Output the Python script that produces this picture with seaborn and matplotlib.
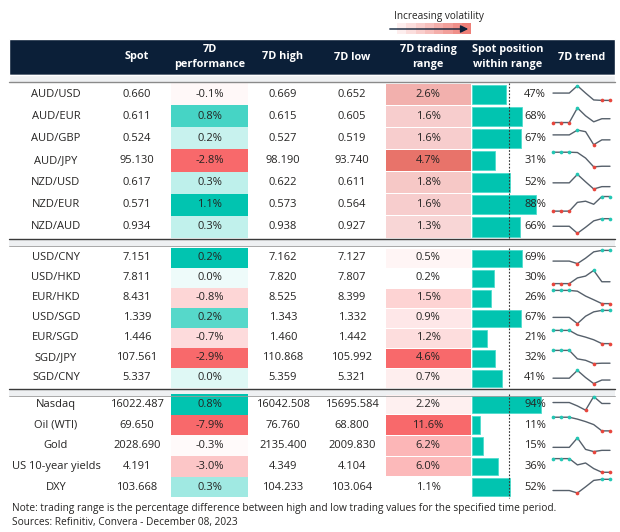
import numpy as np
import matplotlib
matplotlib.use("Agg")
import matplotlib.pyplot as plt
import seaborn as sns

# ---- data ----
names1 = ['AUD/USD', 'AUD/EUR', 'AUD/GBP', 'AUD/JPY', 'NZD/USD', 'NZD/EUR', 'NZD/AUD']
spot1 = [0.660, 0.611, 0.524, 95.130, 0.617, 0.571, 0.934]
perf1 = [-0.14, 0.8, 0.24, -2.8, 0.28, 1.1, 0.27]
high1 = [0.669, 0.615, 0.527, 98.190, 0.622, 0.573, 0.938]
low1 = [0.652, 0.605, 0.519, 93.740, 0.611, 0.564, 0.927]
range1 = [2.6, 1.6, 1.6, 4.7, 1.8, 1.6, 1.3]
pos1 = [47, 68, 67, 31, 52, 88, 66]

names2 = ['USD/CNY', 'USD/HKD', 'EUR/HKD', 'USD/SGD', 'EUR/SGD', 'SGD/JPY', 'SGD/CNY']
spot2 = [7.151, 7.811, 8.431, 1.339, 1.446, 107.561, 5.337]
perf2 = [0.24, 0.016, -0.8, 0.16, -0.7, -2.9, 0.03]
high2 = [7.162, 7.820, 8.525, 1.343, 1.460, 110.868, 5.359]
low2 = [7.127, 7.807, 8.399, 1.332, 1.442, 105.992, 5.321]
range2 = [0.5, 0.2, 1.5, 0.9, 1.2, 4.6, 0.7]
pos2 = [69, 30, 26, 67, 21, 32, 41]

names3 = ['Nasdaq', 'Oil (WTI)', 'Gold', 'US 10-year yields', 'DXY']
spot3 = [16022.487, 69.650, 2028.690, 4.191, 103.668]
perf3 = [0.8, -7.9, -0.3, -3.0, 0.3]
high3 = [16042.508, 76.760, 2135.400, 4.349, 104.233]
low3 = [15695.584, 68.800, 2009.830, 4.104, 103.064]
range3 = [2.2, 11.6, 6.2, 6.0, 1.1]
pos3 = [94, 11, 15, 36, 52]

# 7D trend sparklines (relative level, 8 daily points)
trend1 = [
    [5, 5, 5, 10, 5, 0.3, 0, 0],
    [0, 0, 0, 10, 4.6, 0.5, 2.6, 2.6],
    [6.7, 6.7, 6.7, 10, 8.9, 0, 3.3, 3.3],
    [10, 10, 10, 9.8, 6, 0, 0.4, 0.4],
    [4.2, 4.2, 4.2, 10, 4.9, 0, 1.6, 1.6],
    [0, 0, 0, 6, 6.8, 4.7, 10, 10],
    [4.8, 4.8, 4.8, 0, 4.1, 8.5, 10, 10],
]
trend2 = [
    [1.9, 1.9, 1.9, 0, 4.1, 8.9, 10, 10],
    [0, 0, 0, 4.3, 5.7, 10, 1.4, 1.4],
    [10, 10, 10, 9.4, 5.7, 2.9, 0, 0],
    [4.7, 4.7, 4.7, 0, 5.6, 8.9, 10, 10],
    [10, 10, 10, 6.6, 4.9, 2.9, 0, 0],
    [10, 10, 10, 3.6, 2.5, 0, 0.3, 0.3],
    [4.1, 4.1, 4.1, 10, 4.6, 0, 2.7, 2.7],
]
trend3 = [
    [5.6, 5.6, 5.6, 3.1, 0, 10, 4.9, 4.9],
    [10, 10, 10, 8.6, 6.8, 4.6, 0, 0],
    [3.1, 3.1, 3.1, 10, 1.6, 0, 0.9, 0.9],
    [10, 10, 10, 5.4, 6.8, 2.7, 0, 0],
    [1.8, 1.8, 1.8, 0, 4.5, 9.2, 10, 10],
]

headers = ['Spot', '7D\nperformance', '7D high', '7D low', '7D trading\nrange',
           'Spot position\nwithin range', '7D trend']
note = ('Note: trading range is the percentage difference between high and low '
        'trading values for the specified time period.')
source = 'Sources: Refinitiv, Convera - December 08, 2023'

groups = [
    dict(names=names1, spot=spot1, perf=perf1, high=high1, low=low1, rng=range1, pos=pos1, trend=trend1),
    dict(names=names2, spot=spot2, perf=perf2, high=high2, low=low2, rng=range2, pos=pos2, trend=trend2),
    dict(names=names3, spot=spot3, perf=perf3, high=high3, low=low3, rng=range3, pos=pos3, trend=trend3),
]

# ---- layout (pixel space) ----
group_tops = [83, 248, 394]
row_hs = [22.15, 20.0, 20.7]
NAVY = '#0b1f38'
TXT = '#252423'
TEAL = '#01c4b0'
REDC = '#f8696b'

sns.set_theme(style='white')
plt.rcParams['font.family'] = ['Open Sans', 'DejaVu Sans']

fig = plt.figure(figsize=(6.2, 5.32), dpi=100)
ax = fig.add_axes([0, 0, 1, 1])
ax.set_xlim(0, 620)
ax.set_ylim(532, 0)
ax.axis('off')

pos_cmap = sns.blend_palette(['#ffffff', TEAL], as_cmap=True)
neg_cmap = sns.blend_palette(['#ffffff', REDC], as_cmap=True)
rng_cmaps = [sns.blend_palette(['#f8d6d6', '#e8736a'], as_cmap=True),
             sns.blend_palette(['#ffffff', REDC], as_cmap=True),
             sns.blend_palette(['#ffffff', REDC], as_cmap=True)]

# header
ax.barh(57, 606, left=9, height=36, color=NAVY)
ax.barh(78.5, 606, left=9, height=7, color='#eef0f2')
ax.plot([9, 615], [82, 82], color='#8a8a8a', lw=1)
hx = [137, 209.5, 283, 352, 428, 508, 582]
for x, h in zip(hx, headers):
    ax.text(x, 57, h, color='white', fontsize=7.8, fontweight='bold',
            ha='center', va='center', linespacing=1.55)

# legend: increasing volatility
leg_cols = sns.blend_palette(['#fdeeee', '#ee7f78'], 8)
bw = (471 - 397) / 8
ax.bar([397 + bw * (i + 0.5) for i in range(8)], 11, width=bw, bottom=23,
       color=leg_cols, linewidth=0)
ax.annotate('', xy=(471, 29), xytext=(387, 29),
            arrowprops=dict(arrowstyle='-|>', color=NAVY, lw=1, mutation_scale=11))
ax.text(439, 16, 'Increasing volatility', fontsize=7.2, color=TXT, ha='center', va='center')

BAR_L, BAR_W = 472, 73
SP_L, SP_R = 553, 610

for gi, g in enumerate(groups):
    n = len(g['names'])
    rh = row_hs[gi]
    top = group_tops[gi]
    ys = [top + rh * (i + 0.5) for i in range(n)]

    perf = np.array(g['perf'])
    pmax = perf[perf > 0].max()
    nmax = -perf[perf < 0].min()
    pcols = [pos_cmap(v / pmax) if v >= 0 else neg_cmap(-v / nmax) for v in perf]
    ax.barh(ys, 77, left=171, height=rh, color=pcols, linewidth=0)

    rng = np.array(g['rng'])
    rcols = [rng_cmaps[gi]((v - rng.min()) / (rng.max() - rng.min())) for v in rng]
    ax.barh(ys, 85, left=385.5, height=rh - 1, color=rcols, linewidth=0)

    ax.barh(ys, [p / 100 * BAR_W for p in g['pos']], left=BAR_L, height=rh - 3,
            color=TEAL, edgecolor='#4fdccd', linewidth=0.6)
    ax.plot([BAR_L + BAR_W / 2] * 2, [top, top + rh * n], color='#333333',
            lw=0.8, ls=(0, (1.5, 1.5)))

    for i, y in enumerate(ys):
        ax.text(56, y, g['names'][i], fontsize=8, color=TXT, ha='center', va='center')
        ax.text(137, y, f"{g['spot'][i]:.3f}", fontsize=8, color=TXT, ha='center', va='center')
        ax.text(209.5, y, f"{g['perf'][i]:.1f}%", fontsize=8, color=TXT, ha='center', va='center')
        ax.text(283, y, f"{g['high'][i]:.3f}", fontsize=8, color=TXT, ha='center', va='center')
        ax.text(352, y, f"{g['low'][i]:.3f}", fontsize=8, color=TXT, ha='center', va='center')
        ax.text(428, y, f"{g['rng'][i]:.1f}%", fontsize=8, color=TXT, ha='center', va='center')
        ax.text(546, y, f"{g['pos'][i]}%", fontsize=8, color=TXT, ha='right', va='center')

        tr = np.array(g['trend'][i], dtype=float)
        amp = rh * 0.66
        tx = np.linspace(SP_L, SP_R, len(tr))
        ty = (y - 1 + amp / 2) - (tr - tr.min()) / (tr.max() - tr.min()) * amp
        sns.lineplot(x=tx, y=ty, ax=ax, color='#56606b', lw=1, sort=False)
        hi = tr == tr.max()
        lo = tr == tr.min()
        ax.scatter(tx[hi], ty[hi], s=7, color='#22c7b4', zorder=5, linewidths=0)
        ax.scatter(tx[lo], ty[lo], s=7, color='#e8453c', zorder=5, linewidths=0)

    bottom = top + rh * n
    if gi < 2:
        ax.plot([9, 615], [bottom + 0.5] * 2, color='#3a3a3a', lw=1)
        ax.barh(bottom + 4.5, 606, left=9, height=7, color='#eef0f2', linewidth=0)
        ax.plot([9, 615], [bottom + 8] * 2, color='#9a9a9a', lw=0.6)

ax.text(12, 508, note, fontsize=7.25, color=TXT, ha='left', va='center')
ax.text(12, 523, source, fontsize=7.25, color=TXT, ha='left', va='center')

fig.savefig('out.png', dpi=100)
